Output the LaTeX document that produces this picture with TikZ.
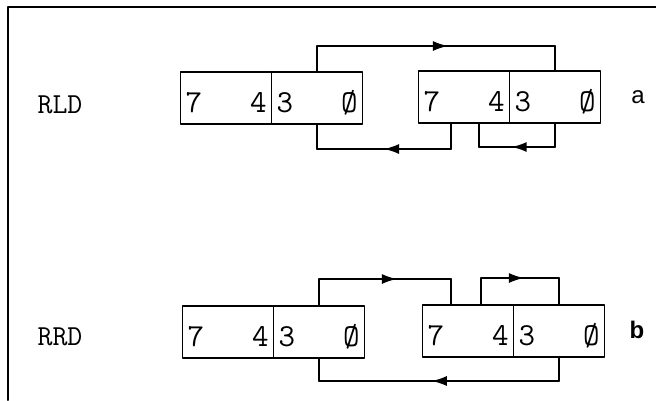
\documentclass[tikz,border=0pt]{standalone}
\usepackage{fontspec}
\newfontfamily\tagfont{Liberation Sans}
\usepackage{tikz}
\usetikzlibrary{positioning,arrows.meta,decorations.markings}

\tikzset{
  nib/.style={draw, line width=1.6pt, minimum width=91pt, minimum height=52pt,
    text width=81pt, inner xsep=5pt, outer sep=0pt, text height=29pt, text depth=0pt,
    font=\fontsize{32}{32}\selectfont\ttfamily},
  wire/.style={line width=1.6pt},
  midarrow/.style={postaction={decorate}, decoration={markings,
    mark=at position #1 with {\arrow{Latex[length=15pt,width=10pt]}}}},
  midarrow/.default=0.55,
  opname/.style={font=\fontsize{29}{29}\selectfont\ttfamily},
  tag/.style={font=\fontsize{24}{24}\selectfont\tagfont}
}

\begin{document}
\begin{tikzpicture}[x=1pt, y=-1pt, >=Latex, line cap=round, line join=round]
		\useasboundingbox (0,0) rectangle (656,400);
		\draw[line width=2pt] (8,400) -- (8,7) -- (656,7);
		
		% RLD
		\begin{scope}
			\node[opname] (rld) at (60,105) {RLD};
			\node[nib] (aLhi) at (226,98) {7\hfill 4};
			\node[nib, right=0pt of aLhi] (aLlo) {3\hfill Ø};
			\node[nib] (aRhi) at (464,97) {7\hfill 4};
			\node[nib, right=0pt of aRhi] (aRlo) {3\hfill Ø};
			\node[tag] (taga) at (638,97) {a};
			
			\coordinate (aTop) at (0,46);
			\coordinate (aBot) at (0,149);
			\coordinate (aLoop) at (0,147);
			\coordinate (aOut) at ([xshift=-13pt]aRhi.south);
			\coordinate (aIn) at ([xshift=15pt]aRhi.south);
			
			\draw[wire] (aLlo.north) -- (aLlo.north |- aTop)
				edge[midarrow] (aRlo.north |- aTop)
				(aRlo.north |- aTop) -- (aRlo.north);
			\draw[wire] (aOut) -- (aOut |- aBot)
				edge[midarrow=0.5] (aLlo.south |- aBot)
				(aLlo.south |- aBot) -- (aLlo.south);
			\draw[wire] (aRlo.south) -- (aRlo.south |- aLoop)
				edge[midarrow=0.57] (aIn |- aLoop)
				(aIn |- aLoop) -- (aIn);
		\end{scope}
		
		% RRD
		\begin{scope}
			\node[opname] (rrd) at (60,337) {RRD};
			\node[nib] (bLhi) at (228,332) {7\hfill 4};
			\node[nib, right=0pt of bLhi] (bLlo) {3\hfill Ø};
			\node[nib] (bRhi) at (468,331) {7\hfill 4};
			\node[nib, right=0pt of bRhi] (bRlo) {3\hfill Ø};
			\node[tag, font=\fontsize{24}{24}\selectfont\tagfont\bfseries] (tagb) at (637,330) {b};
			
			\coordinate (bTop) at (0,279);
			\coordinate (bLoop) at (0,278);
			\coordinate (bBot) at (0,381);
			\coordinate (bIn) at ([xshift=-17pt]bRhi.north);
			\coordinate (bOut) at ([xshift=13pt]bRhi.north);
			
			\draw[wire] (bLlo.north) -- (bLlo.north |- bTop)
				edge[midarrow=0.59] (bIn |- bTop)
				(bIn |- bTop) -- (bIn);
			\draw[wire] (bOut) -- (bOut |- bLoop)
				edge[midarrow] (bRlo.north |- bLoop)
				(bRlo.north |- bLoop) -- (bRlo.north);
			\draw[wire] (bRlo.south) -- (bRlo.south |- bBot)
				edge[midarrow=0.53] (bLlo.south |- bBot)
				(bLlo.south |- bBot) -- (bLlo.south);
		\end{scope}
	\end{tikzpicture}
\end{document}
